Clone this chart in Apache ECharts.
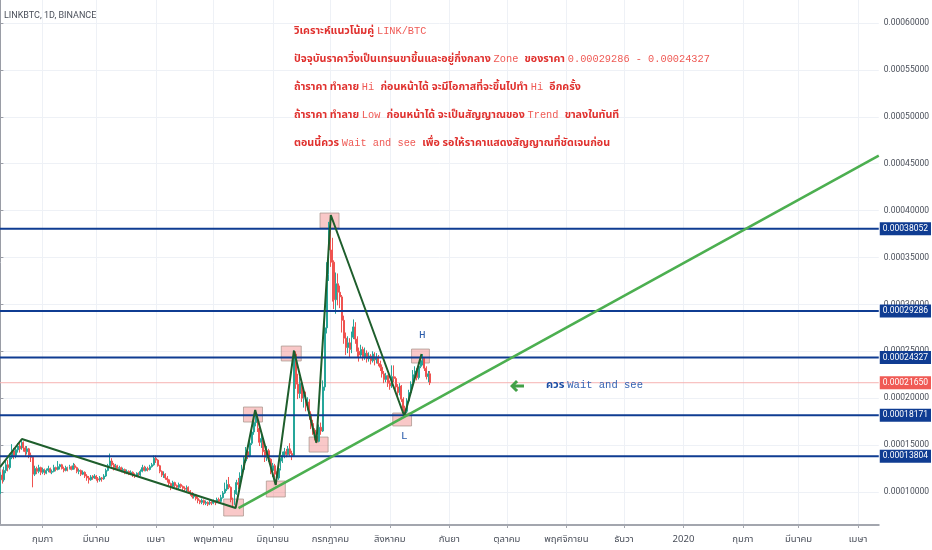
<!DOCTYPE html>
<html><head><meta charset="utf-8">
<script src="https://cdn.jsdelivr.net/npm/echarts@6/dist/echarts.min.js"></script>
<style>html,body{margin:0;padding:0;background:#fff}#c{width:932px;height:550px}</style>
</head><body><div id="c"></div>
<script>
// ---- data (prices in satoshi, 1 sat = 0.00000001 BTC) ----
const firstCandleDate = '2019-01-10';
// daily candles: [open, close, low, high]
const candles = [
[10000,11800,9800,12100],[11800,11300,10900,12400],[11300,12300,11100,12700],[12300,12900,12000,13300],[12900,12600,12200,13400],
[12600,13700,12400,14100],[13700,14400,13500,15100],[14400,13900,13500,14700],[13900,14500,13600,14900],[14500,14900,14200,15200],
[14900,14600,14200,15400],[14600,15300,14500,15650],[15300,14700,14300,15400],[14700,14300,13800,14900],[14300,14600,14000,14900],
[14600,13900,13600,14700],[13900,13700,13200,14200],[13700,11900,10500,13800],[11900,12500,11700,12800],[12500,12200,11900,12700],
[12200,12600,12000,12900],[12600,12100,11800,12700],[12100,12400,11900,12600],[12400,12000,11800,12500],[12000,12300,11900,12500],
[12300,12500,12100,12800],[12500,12100,12000,12600],[12100,12200,11900,12400],[12200,12600,12100,12900],[12600,12400,12200,12700],
[12400,12700,12300,13300],[12700,12900,12400,13000],[12900,12500,12400,13000],[12500,12300,12100,12700],[12300,12600,12200,12800],
[12600,12500,12200,12700],[12500,12700,12400,12900],[12700,12400,12300,12800],[12400,12800,12400,13100],[12800,12600,12400,13000],
[12600,12200,12000,12700],[12200,12300,11900,12500],[12300,11900,11700,12400],[11900,12100,11800,12300],[12100,11700,11500,12200],
[11700,11500,11200,11900],[11500,11300,10900,11700],[11300,11600,11200,11800],[11600,11500,11300,11800],[11500,11700,11400,11900],
[11700,11400,11200,11800],[11400,11300,11000,11600],[11300,11500,11100,11700],[11500,11400,11100,11600],[11400,11700,11300,11900],
[11700,12300,11600,12500],[12300,12800,12200,13000],[12800,13300,12700,14100],[13300,12900,12700,13600],[12900,12600,12300,13100],
[12600,12800,12400,13000],[12800,12500,12300,12900],[12500,12600,12300,12800],[12600,12300,12100,12700],[12300,12400,12100,12600],
[12400,12000,11900,12500],[12000,12200,11900,12400],[12200,11900,11800,12300],[11900,12100,11800,12300],[12100,11800,11600,12200],
[11800,11700,11500,12000],[11700,12000,11600,12100],[12000,11800,11600,12100],[11800,12200,11700,12400],[12200,12600,12100,12900],
[12600,12300,12200,12800],[12300,12500,12200,12700],[12500,12400,12200,12700],[12400,12700,12300,12900],[12700,12900,12600,13100],
[12900,13600,12800,13900],[13600,13400,13100,13900],[13400,12800,12700,13500],[12800,12200,12000,12900],[12200,11800,11600,12300],
[11800,11900,11500,12200],[11900,11500,11300,12000],[11500,11300,11000,11700],[11300,10900,10600,11400],[10900,10600,10200,11000],
[10600,11000,10400,11200],[11000,10700,10500,11100],[10700,10500,10200,10800],[10500,10800,10300,11000],[10800,10600,10400,10900],
[10600,10400,10100,10700],[10400,10300,10000,10600],[10300,10500,10100,10700],[10500,10100,9900,10600],[10100,9900,9600,10200],
[9900,9500,9300,10000],[9500,9700,9300,9900],[9700,9300,9100,9800],[9300,9100,8800,9500],[9100,8900,8700,9200],
[8900,9100,8700,9300],[9100,8800,8600,9200],[8800,8900,8600,9100],[8900,8700,8500,9000],[8700,8900,8600,9100],
[8900,8800,8600,9000],[8800,9000,8700,9200],[9000,8900,8600,9100],[8900,9200,8800,9400],[9200,9000,8800,9400],
[9000,9400,8900,9700],[9400,9900,9300,10100],[9900,10300,9800,11000],[10300,10800,10100,11300],[10800,10500,10300,11600],
[10500,9200,8900,10600],[9200,8700,8300,9400],[8700,9800,8600,10200],[9800,11000,9700,11300],[11000,10800,10300,11500],
[10800,11700,10500,12100],[11700,12400,11500,12900],[12400,13300,12200,13800],[13300,14300,13100,14800],[14300,13800,13500,14700],
[13800,15200,13700,15700],[15200,16400,15000,17000],[16400,17400,16100,18000],[17400,18100,17000,18700],[18100,16800,16400,18300],
[16800,15300,14900,17000],[15300,15700,14700,16100],[15700,14300,13800,15900],[14300,13700,13200,14500],[13700,14400,13300,14900],
[14400,13500,13200,14600],[13500,12300,11900,13600],[12300,12800,11600,13100],[12800,11900,11500,13000],[11900,11500,10800,12200],
[11500,12500,11300,12800],[12500,13300,12300,13600],[13300,13900,13100,14300],[13900,14300,13600,14700],[14300,14000,13700,14600],
[14000,14600,13900,14900],[14600,14100,13800,15200],[14100,13900,13400,14400],[13900,24700,13800,25100],[24700,21500,21000,25000],
[21500,20500,19900,22600],[20500,21600,20000,22300],[21600,20000,19600,22000],[20000,20400,19000,21000],[20400,19200,18600,20700],
[19200,19600,18700,20100],[19600,18300,17700,19900],[18300,17300,16700,18600],[17300,16600,16100,17700],[16600,15900,15500,16800],
[15900,15400,15200,16200],[15400,16900,15300,17200],[16900,16500,16100,17400],[16500,21200,16400,21900],[21200,27500,20800,28500],
[27500,33200,26900,34500],[33200,37900,32500,38800],[37900,35800,34000,39500],[35800,34500,30300,37100],[34500,30500,29500,34700],
[30500,32200,29000,33400],[32200,31300,29900,33300],[31300,30800,29600,32000],[30800,28300,27000,31000],[28300,26400,25800,28800],
[26400,25400,24600,27000],[25400,25900,24800,26600],[25900,25200,24400,26400],[25200,26500,24800,27100],[26500,27600,26300,28400],
[27600,26300,25800,28100],[26300,25000,24400,26600],[25000,24600,23900,25400],[24600,25200,24300,25700],[25200,24400,24000,25500],
[24400,24800,24100,25400],[24800,24200,23800,25100],[24200,24500,23900,24900],[24500,24000,23600,24700],[24000,24700,23800,25000],
[24700,24100,23500,24900],[24100,24400,23700,24800],[24400,23700,23400,24600],[23700,23300,22900,24000],[23300,22600,22200,23600],
[22600,22000,21600,22900],[22000,22400,21700,22700],[22400,21600,21200,22500],[21600,21300,20900,21900],[21300,22300,21100,23500],
[22300,22100,21700,23500],[22100,21200,20900,22300],[21200,20600,20000,21500],[20600,21300,20300,21600],[21300,19900,19600,21400],
[19900,18900,18500,20100],[18900,18600,18200,19200],[18600,19700,18400,20000],[19700,20600,19500,20900],[20600,21500,20400,21800],
[21500,22500,21300,23000],[22500,22900,22100,23400],[22900,22200,21900,23200],[22200,23400,22000,23800],[23400,24000,23200,24400],
[24000,24300,23500,24700],[24300,23200,22900,24300],[23200,22300,22000,23400],[22300,22600,21700,22900],[22600,21650,21400,22900]
];
// x-axis month ticks and their Thai labels
const monthTicks = ['2019-02-01','2019-03-01','2019-04-01','2019-05-01','2019-06-01','2019-07-01','2019-08-01','2019-09-01',
  '2019-10-01','2019-11-01','2019-12-01','2020-01-01','2020-02-01','2020-03-01','2020-04-01'];
const monthLabels = ['กุมภา','มีนาคม','เมษา','พฤษภาคม','มิถุนายน','กรกฎาคม','สิงหาคม','กันยา',
  'ตุลาคม','พฤศจิกายน','ธันวา','2020','กุมภา','มีนาคม','เมษา'];
// y-axis tick labels (BTC)
const priceTicks = [0.00010, 0.00015, 0.00020, 0.00025, 0.00030, 0.00035, 0.00040, 0.00045, 0.00050, 0.00055, 0.00060];
// horizontal support / resistance levels (BTC)
const levels = [0.00038052, 0.00029286, 0.00024327, 0.00018171, 0.00013804];
const lastPrice = 0.00021650;
// hand-drawn zig-zag swing line: [day offset from first candle, price sats]
const zigzag = [[-0.2,12650],[11.2,15650],[122.6,8290],[132.8,18740],[143.5,10750],[153,25060],[164.7,15260],[172.2,39530],[210.5,18100],[219.5,24710]];
// rising trend line: [day offset, price sats]
const trendLine = [[124.1,8290],[457.8,45870]];
// highlighted swing boxes: [start day, end day, low sats, high sats]
const boxes = [[116.4,126.7,7440,9250],[126.7,136.6,17460,19060],[138.6,148.5,9470,11170],[146.4,156.8,23970,25560],
  [160.9,170.8,14260,15860],[166.6,176.5,38140,39740],[204.5,214.3,17040,18420],[214.3,223.6,23750,25240]];
// visible date window: [day offset start, day offset end]
const viewDays = [-0.2, 457.8];
// visible price window (BTC)
const viewPrice = [0.00006482, 0.00062452];

// ---- build ----
const DAY = 86400000;
const t0 = Date.parse(firstCandleDate + 'T00:00:00Z');
const S = v => v / 1e8;
const candleData = candles.map((c, i) => [i, S(c[0]), S(c[1]), S(c[2]), S(c[3])]);
const tickDays = monthTicks.map(s => Math.round((Date.parse(s + 'T00:00:00Z') - t0) / DAY));
const labelOf = {};
tickDays.forEach((d, i) => labelOf[d] = monthLabels[i]);

const thaiFont = "'Noto Sans Thai','Tahoma','Loma','Garuda','Norasi','DejaVu Sans',sans-serif";
const monoFont = "'Liberation Mono','DejaVu Sans Mono',monospace";

function levelSeries(v, lineColor, lineWidth, boxColor, z) {
  return {
    type: 'line', silent: true, symbol: 'none', z: z, clip: false,
    data: [[viewDays[0], v], [viewDays[1], v]],
    lineStyle: {color: lineColor, width: lineWidth},
    endLabel: {show: true, distance: 1, formatter: () => v.toFixed(8),
      backgroundColor: boxColor, color: '#ffffff', fontSize: 8.5, fontFamily: 'Roboto',
      padding: [2, 3, 1, 3], lineHeight: 10}
  };
}

const chart = echarts.init(document.getElementById('c'), null, {renderer: 'canvas'});
chart.setOption({
  animation: false,
  backgroundColor: '#ffffff',
  grid: {left: 0, right: 48, top: 0, bottom: 25, containLabel: false},
  xAxis: {
    type: 'value', min: viewDays[0], max: viewDays[1],
    axisLine: {show: true, onZero: false, lineStyle: {color: '#a3a6ae', width: 2}},
    axisTick: {show: true, customValues: tickDays, length: 3, lineStyle: {color: '#a3a6ae'}},
    axisLabel: {customValues: tickDays, margin: 10, fontSize: 9.5, color: '#4a4f5a', fontFamily: thaiFont,
      formatter: v => labelOf[Math.round(v)] || ''},
    splitLine: {show: true, lineStyle: {color: '#eef1f6', width: 1}}
  },
  yAxis: {
    type: 'value', position: 'right', min: viewPrice[0], max: viewPrice[1], scale: true,
    axisLine: {show: true, lineStyle: {color: '#9a9da6', width: 1}},
    axisTick: {show: true, customValues: priceTicks, length: 3, lineStyle: {color: '#9a9da6'}},
    axisLabel: {customValues: priceTicks, margin: 5, fontSize: 8.5, color: '#4a4f5a', fontFamily: 'Roboto',
      formatter: v => v.toFixed(8)},
    splitLine: {show: true, lineStyle: {color: '#eef1f6', width: 1}}
  },
  graphic: [
    {type: 'text', left: 4, top: 11, style: {text: 'LINKBTC, 1D, BINANCE', fontSize: 9, fill: '#4a4f5a', fontFamily: 'Roboto'}},
    {type: 'text', left: 294, top: 26, z: 100, style: {
      text: '{th|วิเคราะห์แนวโน้มคู่ }{en|LINK/BTC}\n' +
            '{th|ปัจจุบันราคาวิ่งเป็นเทรนขาขึ้นและอยู่กึ่งกลาง }{en|Zone }{th|ของราคา }{en|0.00029286 - 0.00024327}\n' +
            '{th|ถ้าราคา ทำลาย }{en|Hi }{th|ก่อนหน้าได้ จะมีโอกาสที่จะขึ้นไปทำ }{en|Hi }{th|อีกครั้ง}\n' +
            '{th|ถ้าราคา ทำลาย }{en|Low }{th|ก่อนหน้าได้ จะเป็นสัญญาณของ }{en|Trend }{th|ขาลงในทันที}\n' +
            '{th|ตอนนี้ควร }{en|Wait and see }{th|เพื่อ รอให้ราคาแสดงสัญญาณที่ชัดเจนก่อน}',
      rich: {
        th: {fontFamily: thaiFont, fontSize: 10.7, fontWeight: 'bold', fill: '#e0312e', lineHeight: 28},
        en: {fontFamily: monoFont, fontSize: 10.3, fill: '#ef5a55', lineHeight: 28}
      }}},
    {type: 'text', left: 546, top: 380, z: 100, style: {
      text: '{th|ควร }{en|Wait and see}',
      rich: {
        th: {fontFamily: thaiFont, fontSize: 11, fontWeight: 'bold', fill: '#1d4fa5', lineHeight: 14},
        en: {fontFamily: monoFont, fontSize: 10.5, fill: '#3563b3', lineHeight: 14}
      }}},
    {type: 'polygon', z: 100, shape: {points: [[510,386],[516,380],[518.2,382.2],[515.4,384.6],[524,384.6],[524,387.6],[515.4,387.6],[518.2,390],[516,392]]},
      style: {fill: '#43a047'}},
    {type: 'text', left: 419, top: 330, z: 100, style: {text: 'H', fontFamily: monoFont, fontSize: 11, fill: '#2a5cab'}},
    {type: 'text', left: 401, top: 431, z: 100, style: {text: 'L', fontFamily: monoFont, fontSize: 11, fill: '#2a5cab'}}
  ],
  series: [
    levelSeries(lastPrice, '#f6b3b1', 1, '#f05a55', 1)
  ].concat(levels.map(v => levelSeries(v, '#0f3c92', 2, '#0f3c92', 4))).concat([
    {
      type: 'candlestick', data: candleData, barWidth: 1.4, z: 3,
      itemStyle: {color: '#26a69a', color0: '#ef5350', borderColor: '#26a69a', borderColor0: '#ef5350', borderWidth: 1},
      markArea: {
        silent: true,
        itemStyle: {color: 'rgba(240,110,110,0.38)', borderColor: 'rgba(170,150,140,0.75)', borderWidth: 1},
        data: boxes.map(b => [{xAxis: b[0], yAxis: S(b[2])}, {xAxis: b[1], yAxis: S(b[3])}])
      }
    },
    {
      type: 'line', data: zigzag.map(p => [p[0], S(p[1])]), symbol: 'none', z: 6,
      lineStyle: {color: '#1e5e2c', width: 2}, silent: true
    },
    {
      type: 'line', data: trendLine.map(p => [p[0], S(p[1])]), symbol: 'none', z: 6,
      lineStyle: {color: '#4caf50', width: 2.6}, silent: true
    }
  ])
});
</script></body></html>
